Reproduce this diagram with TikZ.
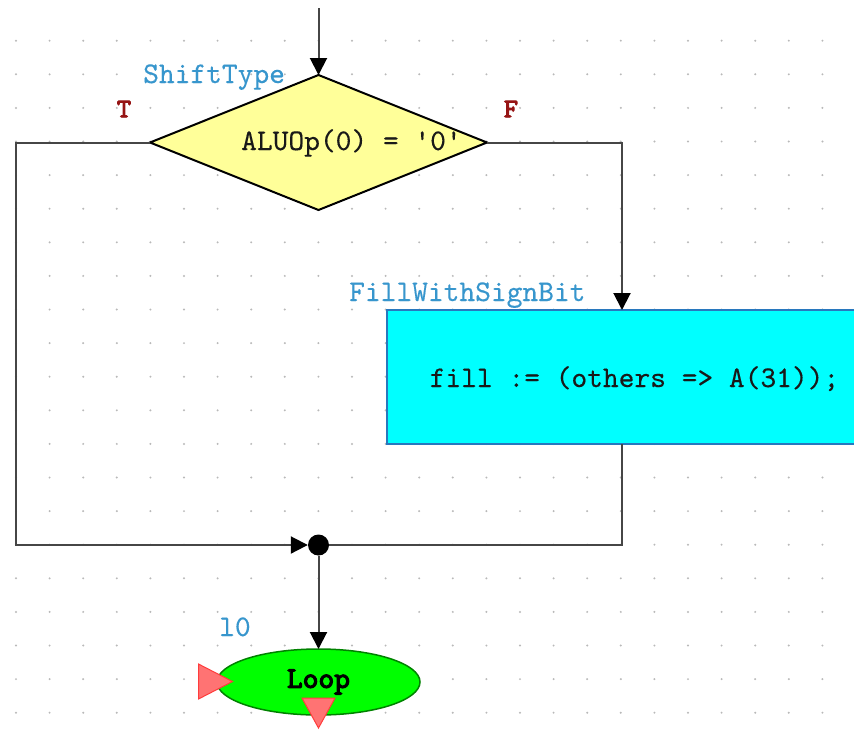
\documentclass[tikz,border=0pt]{standalone}
\usepackage{fontspec}
\setmonofont{lmmono10-regular}[Extension=.otf, FakeBold=0.3]
\newfontfamily\heavytt{lmmono10-regular}[Extension=.otf, FakeBold=3.5]
\usetikzlibrary{arrows.meta,shapes.geometric,calc}
\definecolor{labelblue}{RGB}{55,150,205}
\definecolor{branchred}{RGB}{150,20,20}
\definecolor{decisionfill}{RGB}{255,255,153}
\definecolor{actionfill}{RGB}{0,255,255}
\definecolor{actionedge}{RGB}{40,120,190}
\definecolor{loopfill}{RGB}{0,255,0}
\definecolor{loopedge}{RGB}{0,130,0}
\definecolor{markfill}{RGB}{255,115,115}
\definecolor{markedge}{RGB}{255,60,60}
\definecolor{gridgray}{RGB}{185,185,185}
\definecolor{wire}{RGB}{70,70,70}
\newcommand\codesize{\fontsize{30pt}{34pt}\selectfont}
\begin{document}
\begin{tikzpicture}[x=1pt,y=-1pt,
  flow/.style={draw=wire, line width=2pt},
  tip/.style={-{Triangle[length=17pt,width=17pt,color=black]}},
  code/.style={font=\ttfamily\codesize, inner sep=0pt, text=black!90},
  lbl/.style={font=\ttfamily\codesize, inner sep=0pt, text=labelblue},
  branch/.style={font=\heavytt\fontsize{27pt}{30pt}\selectfont, inner sep=0pt, text=branchred},
  decision/.style={diamond, draw=black, line width=2pt, fill=decisionfill,
    minimum width=337pt, minimum height=135pt, inner sep=0pt, outer sep=0pt},
  action/.style={rectangle, draw=actionedge, line width=2pt, fill=actionfill,
    minimum width=500pt, minimum height=134pt, inner sep=0pt, outer sep=0pt},
  loopnode/.style={ellipse, draw=loopedge, line width=1.5pt, fill=loopfill,
    minimum width=203pt, minimum height=66pt, inner sep=0pt, outer sep=0pt,
    font=\heavytt\codesize},
  marker/.style={fill=markfill, draw=markedge, line width=1pt}]
\useasboundingbox (0,0) rectangle (854,729);
\clip (0,0) rectangle (854,729);
\fill[white] (0,0) rectangle (854,729);

% dotted drawing grid
\foreach \i in {0,...,24}
  \foreach \j in {0,...,20}
    \fill[gridgray] (16+33.6*\i, 40.7+33.6*\j) circle (1.1pt);

% shapes
\node[decision] (test) at (318.5,142.5) {};
\node[code, anchor=base west] (cond) at (241,150) {ALUOp(0) = '0'};
\node[lbl, anchor=base west] (testlbl) at (143,83) {ShiftType};
\node[branch] (tlbl) at (124,109) {T};
\node[branch] (flbl) at (511,109) {F};

\node[action, anchor=north west] (fill) at (387,310) {};
\node[code, anchor=base west] (filltext) at (429.5,387) {fill := (others => A(31));};
\node[lbl, anchor=base west] (filllbl) at (349,301) {FillWithSignBit};

\node[circle, fill=black, minimum size=21pt, inner sep=0pt] (join) at (318.5,545) {};

\node[loopnode] (loop) at (318.5,682) {Loop};
\node[lbl, anchor=base west] (looplbl) at (219,636) {l0};

% markers on the loop
\draw[marker] ($(loop.west)+(-18.5,-18)$) -- ($(loop.west)+(-18.5,17)$) -- ($(loop.west)+(15.5,-0.5)$) -- cycle;
\draw[marker] ($(loop.south)+(-16.5,-17)$) -- ($(loop.south)+(16.5,-17)$) -- ($(loop.south)+(0,13)$) -- cycle;

% connectors
\coordinate (entry) at (318.5,8);
\draw[flow,tip] (entry) -- (test.north);
\draw[flow,tip] (test.west) -- ++(-134,0) |- (join.west);
\draw[flow,tip] (test.east) -| ([xshift=235pt]fill.north west);
\draw[flow] ([xshift=235pt]fill.south west) |- (join.east);
\draw[flow,tip] (join) -- (loop.north);
\end{tikzpicture}
\end{document}
